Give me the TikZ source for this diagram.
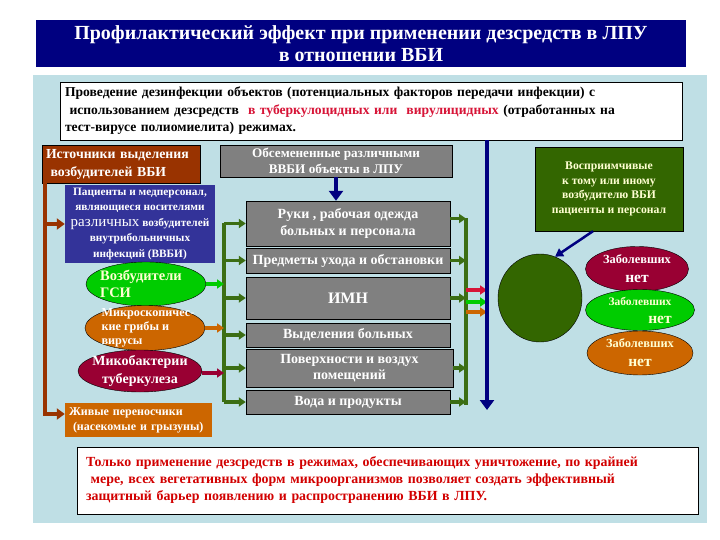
\documentclass[tikz,border=0pt]{standalone}
\usepackage{fontspec}
\setmainfont{Liberation Serif}
\usepackage{tikz}
\usetikzlibrary{arrows.meta, shapes.geometric, calc}
\definecolor{navyblue}{RGB}{0,0,128}
\definecolor{panelblue}{RGB}{191,223,229}
\definecolor{srcbrown}{RGB}{153,51,0}
\definecolor{carrierblue}{RGB}{51,51,153}
\definecolor{gsigreen}{RGB}{0,204,0}
\definecolor{fungiorange}{RGB}{204,102,0}
\definecolor{tbcrimson}{RGB}{153,0,51}
\definecolor{darkgreen}{RGB}{51,102,0}
\definecolor{busgreen}{RGB}{60,110,20}
\definecolor{boxgrey}{RGB}{128,128,128}
\definecolor{paleyellow}{RGB}{255,255,210}
\definecolor{alertred}{RGB}{210,0,0}
\definecolor{modered}{RGB}{215,20,55}
\tikzstyle{garrow} = [line width=3.5pt, busgreen, -{Triangle[length=7pt,width=9pt]}]
\tikzstyle{gline} = [line width=3.5pt, busgreen]
\tikzstyle{carrow} = [line width=3.5pt, -{Triangle[length=7pt,width=9pt]}]
\tikzstyle{varrow} = [line width=4.5pt, navyblue, -{Triangle[length=10pt,width=14pt]}]

\begin{document}
\begin{tikzpicture}[x=1pt, y=-1pt,
		greybox/.style={
			draw=black,
			rectangle,
			fill=boxgrey,
			text=white,
			align=center,
			inner sep=1pt,
			minimum width=204pt,
			font=\bfseries\fontsize{14}{16.5}\selectfont},
		blob/.style={
			draw=black,
			ellipse,
			inner sep=0pt},
		blobtext/.style={
			text=white,
			inner sep=0pt,
			font=\bfseries\fontsize{12.4}{19}\selectfont}]
		\useasboundingbox (0,0) rectangle (720,540);
		\fill [panelblue] (33,75) rectangle (707,523);

		\node (title) [rectangle, fill=navyblue, text=white, align=center, minimum width=650pt, minimum height=47pt, font=\bfseries\fontsize{20}{22}\selectfont] at (361,43.5) {Профилактический эффект при применении дезсредств в ЛПУ\\ в отношении  ВБИ};

		\node (intro) [draw=black, rectangle, fill=white, align=left, text width=612pt, inner xsep=5pt, minimum height=58pt, font=\bfseries\fontsize{13.6}{17.5}\selectfont] at (371,111) {Проведение дезинфекции объектов (потенциальных факторов передачи инфекции) с\\
			\ использованием дезсредств\ \ {\color{modered}в туберкулоцидных или\ \ вирулицидных} (отработанных на\\
			тест-вирусе полиомиелита) режимах.};

		% sources
		\node (src) [draw=black, rectangle, fill=srcbrown, text=white, align=left, text width=150pt, minimum height=38pt, inner xsep=4pt, font=\bfseries\fontsize{13.8}{18}\selectfont] at (121,164) {Источники выделения\\ \ возбудителей  ВБИ};
		\node (carriers) [draw=none, rectangle, fill=carrierblue, text=white, align=center, minimum width=150pt, minimum height=78pt, inner sep=1pt, font=\bfseries\fontsize{11.3}{15.5}\selectfont] at (140,224) {Пациенты и медперсонал,\\ являющиеся носителями\\ {\mdseries\fontsize{15}{15.5}\selectfont различных} возбудителей\\ внутрибольничных\\ инфекций  (ВВБИ)};
		\node (gsi) [blob, fill=gsigreen, minimum width=120pt, minimum height=44pt, label={[blobtext, text=paleyellow, align=left, font=\bfseries\fontsize{14.5}{17}\selectfont, xshift=-5pt]center:{Возбудители\\ ГСИ}}] at (146,284) {};
		\node (fungi) [blob, fill=fungiorange, minimum width=120pt, minimum height=45pt, label={[blobtext, align=left, font=\bfseries\fontsize{12.2}{14}\selectfont, xshift=3pt]center:{Микроскопичес-\\ кие грибы и\\ вирусы}}] at (145,328) {};
		\node (tb) [blob, fill=tbcrimson, minimum width=124pt, minimum height=42pt, label={[blobtext, align=center, font=\bfseries\fontsize{14}{18}\selectfont]center:{Микобактерии\\ туберкулеза}}] at (140,371) {};
		\node (vectors) [rectangle, fill=fungiorange, text=white, align=left, text width=139pt, minimum height=34pt, inner xsep=4pt, inner ysep=1pt, font=\bfseries\fontsize{12}{15}\selectfont] at (138.5,420) {Живые переносчики\\ \ (насекомые и грызуны)};

		% objects
		\node (seeded) [greybox, minimum width=232pt, minimum height=32pt, font=\bfseries\fontsize{13.2}{15.5}\selectfont] at (336,161) {Обсемененные различными\\ ВВБИ объекты  в ЛПУ};
		\node (hands) [greybox, minimum height=45pt] at (348,223.5) {Руки , рабочая одежда\\ больных и  персонала};
		\node (care) [greybox, minimum height=25pt] at (348,260.5) {Предметы ухода и обстановки};
		\node (imn) [greybox, minimum height=42pt, font=\bfseries\fontsize{16}{18}\selectfont] at (348,298) {ИМН};
		\node (excr) [greybox, minimum height=24pt] at (348,335) {Выделения больных};
		\node (surf) [greybox, minimum width=207pt, minimum height=38pt] at (349.5,368) {Поверхности и воздух\\ помещений};
		\node (water) [greybox, minimum height=24pt] at (348,402) {Вода и продукты};

		% susceptible
		\node (suscept) [draw=black, rectangle, fill=darkgreen, text=paleyellow, align=center, minimum width=148pt, minimum height=84pt, inner sep=1pt, font=\bfseries\fontsize{11.7}{14.7}\selectfont] at (609,189) {Восприимчивые\\ к тому  или иному\\ возбудителю ВБИ\\ пациенты и персонал};
		\node (circ) [blob, fill=darkgreen, minimum width=84pt, minimum height=88pt] at (540,298) {};
		\node (sick1) [blob, fill=tbcrimson, minimum width=103pt, minimum height=45pt, label={[blobtext, align=center]center:{Заболевших\\ {\fontsize{15.5}{19}\selectfont нет}}}] at (637,269) {};
		\node (sick2) [blob, fill=gsigreen, minimum width=109pt, minimum height=41pt, label={[blobtext, text=paleyellow, align=center, font=\bfseries\fontsize{11.5}{18}\selectfont]center:{Заболевших\\ \hspace*{40pt}{\fontsize{15.5}{18}\selectfont нет}}}] at (640,310) {};
		\node (sick3) [blob, fill=fungiorange, minimum width=106pt, minimum height=44pt, label={[blobtext, text=paleyellow, align=center]center:{Заболевших\\ {\fontsize{15.5}{19}\selectfont нет}}}] at (640,353) {};

		\node (summary) [draw=black, rectangle, fill=white, align=left, text width=603pt, inner xsep=9pt, minimum height=67pt, text=alertred, font=\bfseries\fontsize{13.9}{17}\selectfont] at (387.5,480.5) {Только применение дезсредств в режимах, обеспечивающих уничтожение, по крайней\\
			\ мере, всех вегетативных форм микроорганизмов  позволяет создать эффективный\\
			защитный барьер появлению и распространению ВБИ  в ЛПУ.};

		% connectors
		\coordinate (srcdrop) at (45,183);
		\coordinate (lbus) at (224,0);
		\coordinate (rbus) at (466,0);
		\coordinate (vline) at (487,0);
		\coordinate (vbot) at (487,410);
		\coordinate (redin) at (466,290);
		\coordinate (greenin) at (466,302);
		\coordinate (orangein) at (466,312);

		\draw [line width=4pt, srcbrown, -{Triangle[length=8pt,width=11pt]}] (srcdrop) |- ([yshift=6pt]vectors.west);
		\draw [line width=4pt, srcbrown, -{Triangle[length=8pt,width=11pt]}] (srcdrop |- carriers.west) -- (carriers.west);

		\draw [gline] (hands.west -| lbus) -- (water.west -| lbus);
		\draw [garrow] (hands.west -| lbus) -- (hands.west);
		\draw [garrow] (care.west -| lbus) -- (care.west);
		\draw [garrow] (imn.west -| lbus) -- (imn.west);
		\draw [garrow] (excr.west -| lbus) -- (excr.west);
		\draw [garrow] (surf.west -| lbus) -- (surf.west);
		\draw [garrow] (water.west -| lbus) -- (water.west);
		\draw [carrow, gsigreen] (gsi.east) -- (gsi.east -| lbus);
		\draw [carrow, fungiorange] (fungi.east) -- (fungi.east -| lbus);
		\draw [carrow, tbcrimson] ([yshift=-2pt]tb.east) -- ([yshift=-2pt]tb.east -| lbus);

		\draw [gline] ([yshift=5pt]hands.east -| rbus) -- ([yshift=-3pt]water.east -| rbus);
		\draw [garrow] ([yshift=5pt]hands.east) -- ([yshift=5pt]hands.east -| rbus);
		\draw [garrow] (care.east) -- (care.east -| rbus);
		\draw [garrow] (imn.east) -- (imn.east -| rbus);
		\draw [garrow] (surf.east) -- (surf.east -| rbus);
		\draw [garrow] (water.east) -- (water.east -| rbus);
		\draw [carrow, modered] (redin) -- (redin -| vline);
		\draw [carrow, gsigreen] (greenin) -- (greenin -| vline);
		\draw [carrow, fungiorange] (orangein) -- (orangein -| vline);

		\draw [varrow] (intro.south -| vline) -- (vbot);
		\draw [varrow] (seeded.south) -- (seeded.south |- hands.north);
		\draw [line width=2.5pt, navyblue, -{Triangle[length=8pt,width=9pt]}] ([xshift=-16pt]suscept.south) -- (circ.70);
	\end{tikzpicture}
\end{document}
